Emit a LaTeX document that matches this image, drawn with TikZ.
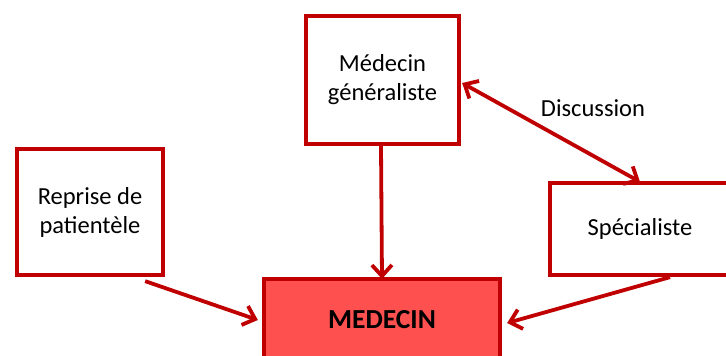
\documentclass[tikz,border=0pt]{standalone}
\usepackage{fontspec}
\setmainfont{Carlito}
\usetikzlibrary{arrows.meta}
\definecolor{dred}{HTML}{C00000}
\definecolor{mfill}{HTML}{FF5050}
\tikzset{
  box/.style={draw=dred, line width=3.8pt, fill=white, align=center, inner sep=0pt,
    font=\fontsize{24.5}{29}\selectfont},
  tip/.tip={Straight Barb[length=11pt,width=20pt,line width=3.8pt]},
  conn/.style={draw=dred, line width=3.8pt, -tip},
  dconn/.style={draw=dred, line width=3.8pt, tip-tip},
}
\begin{document}
\begin{tikzpicture}[x=1pt,y=-1pt]
\useasboundingbox (0,0) rectangle (726,356);
\clip (0,0) rectangle (726,356);
\node[box, minimum width=146.5pt, minimum height=126.5pt] (rep) at (90,212) {Reprise de\\patientèle};
\node[box, minimum width=153.5pt, minimum height=128.5pt] (gen) at (382.5,80) {Médecin\\généraliste};
\node[box, minimum width=180.5pt, minimum height=92.5pt] (spe) at (640,229) {Spécialiste};
\node[box, fill=mfill, minimum width=236.5pt, minimum height=82.5pt, font=\fontsize{27.5}{32}\selectfont\bfseries] (med) at (382,320) {MEDECIN};
\node[inner sep=0pt, font=\fontsize{24.5}{29}\selectfont] (disc) at (593,108) {Discussion};
\draw[conn] ([xshift=-20pt,yshift=-4pt]rep.south east) -- ([xshift=-4pt]med.west);
\draw[conn] ([xshift=-1.5pt]gen.south) -- ([yshift=-2pt]med.north);
\draw[conn] ([xshift=30pt]spe.south) -- ([xshift=5pt,yshift=-3pt]med.east);
\draw[dconn] ([xshift=1pt,yshift=-3pt]gen.east) -- ([yshift=-1pt]spe.north);
\end{tikzpicture}
\end{document}
